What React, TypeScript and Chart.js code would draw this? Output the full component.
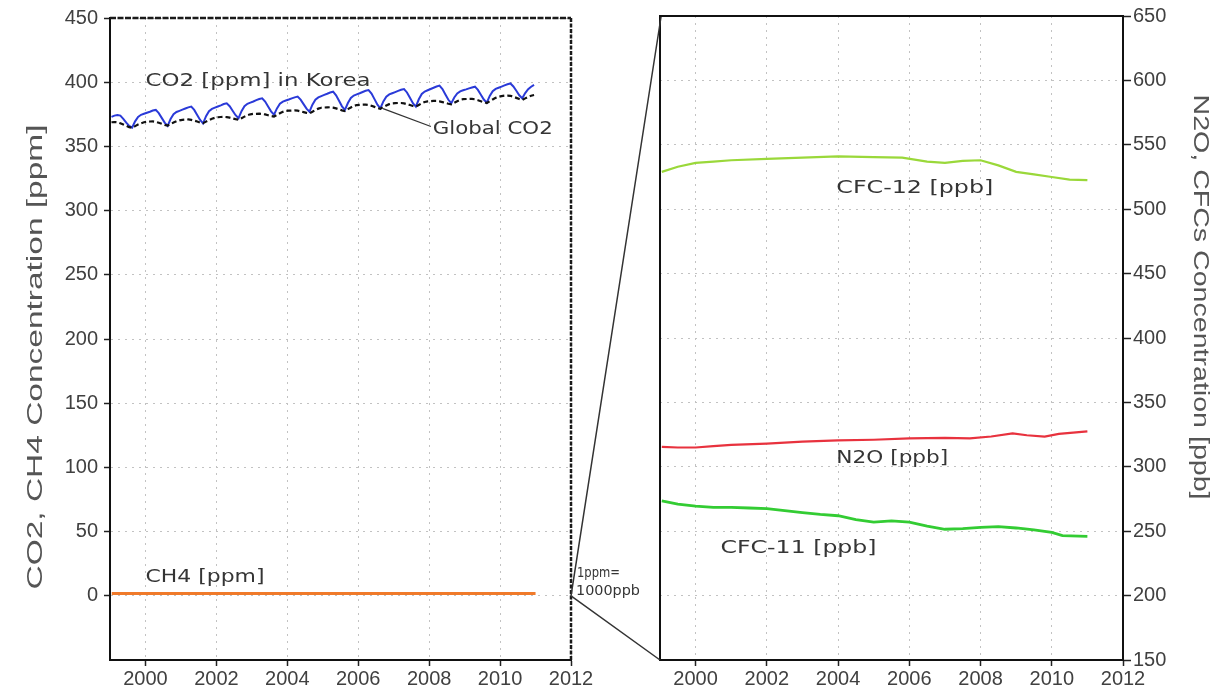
import React, { useEffect, useRef } from "react";
import { Chart, registerables } from "chart.js";

Chart.register(...registerables);

// ---------- DATA ----------
const START_YEAR = 1999; // first month of the monthly CO2 records (Jan 1999)
const X_MIN = 1999;
const X_MAX = 2012;
const yearTicks = [2000, 2002, 2004, 2006, 2008, 2010, 2012];
const leftTicks = [0, 50, 100, 150, 200, 250, 300, 350, 400, 450];
const rightTicks = [150, 200, 250, 300, 350, 400, 450, 500, 550, 600, 650];

// CO2 in Korea [ppm], monthly Jan 1999 .. Dec 2010
const koreaCO2 = [
  373.0, 374.0, 374.5, 374.0, 371.5, 368.5, 366.0, 364.7, 369.5, 372.9, 374.6, 375.4,
  376.2, 377.0, 377.9, 378.4, 375.9, 372.2, 368.5, 366.0, 371.3, 375.0, 376.8, 377.7,
  378.6, 379.5, 380.4, 381.0, 378.4, 374.5, 370.6, 368.0, 373.5, 377.4, 379.2, 380.2,
  381.1, 382.0, 383.0, 383.6, 381.3, 377.8, 374.3, 372.0, 377.4, 381.3, 383.2, 384.1,
  385.0, 386.0, 386.9, 387.5, 384.9, 381.1, 377.3, 374.7, 379.6, 383.2, 384.9, 385.7,
  386.5, 387.4, 388.2, 388.8, 386.4, 382.9, 379.4, 377.0, 382.5, 386.4, 388.2, 389.2,
  390.1, 391.0, 392.0, 392.6, 389.8, 385.5, 381.2, 378.4, 383.8, 387.7, 389.6, 390.5,
  391.4, 392.4, 393.3, 393.9, 391.1, 386.8, 382.5, 379.7, 385.0, 388.7, 390.5, 391.4,
  392.3, 393.2, 394.1, 394.7, 392.0, 387.9, 383.7, 381.0, 386.7, 390.8, 392.7, 393.7,
  394.7, 395.7, 396.6, 397.3, 394.6, 390.5, 386.3, 383.6, 388.1, 391.3, 392.9, 393.7,
  394.4, 395.2, 395.9, 396.5, 394.0, 390.3, 386.5, 384.0, 389.3, 393.0, 394.8, 395.7,
  396.6, 397.5, 398.4, 399.0, 396.7, 393.3, 389.8, 387.5, 391.5, 394.5, 396.5, 397.9,
];

// Global CO2 [ppm], monthly Jan 1999 .. Dec 2010
const globalCO2 = [
  368.8, 369.0, 368.8, 368.0, 367.0, 366.0, 365.0, 364.5, 365.8, 367.0, 368.0, 368.8,
  369.2, 369.4, 369.5, 369.1, 368.4, 367.6, 366.8, 366.2, 367.4, 368.6, 369.6, 370.3,
  370.7, 370.9, 371.0, 370.7, 370.1, 369.4, 368.6, 368.1, 369.3, 370.5, 371.6, 372.3,
  372.7, 372.9, 373.0, 372.8, 372.4, 371.8, 371.2, 370.8, 372.0, 373.2, 374.3, 375.0,
  375.3, 375.4, 375.5, 375.3, 374.9, 374.3, 373.7, 373.3, 374.5, 375.8, 376.9, 377.6,
  377.8, 377.9, 378.0, 377.8, 377.3, 376.7, 376.1, 375.7, 377.0, 378.3, 379.4, 380.1,
  380.3, 380.4, 380.5, 380.2, 379.6, 378.9, 378.1, 377.6, 379.0, 380.3, 381.5, 382.2,
  382.4, 382.5, 382.6, 382.3, 381.6, 380.8, 379.9, 379.3, 380.7, 381.9, 382.9, 383.5,
  383.7, 383.8, 383.8, 383.5, 382.9, 382.2, 381.5, 381.0, 382.3, 383.6, 384.6, 385.1,
  385.3, 385.4, 385.4, 385.1, 384.5, 383.9, 383.2, 382.8, 384.0, 385.2, 386.2, 386.8,
  386.9, 387.0, 387.0, 386.7, 386.0, 385.2, 384.4, 383.8, 385.2, 386.6, 387.8, 388.6,
  389.2, 389.5, 389.6, 389.4, 388.7, 387.8, 386.9, 386.2, 387.4, 388.6, 389.5, 390.0,
];

// CH4 [ppm]
const ch4Years = [1999.05, 2003.0, 2007.0, 2011.0];
const ch4Values = [1.80, 1.82, 1.83, 1.85];

// CFC-12 [ppb]
const cfc12Years = [1999.05, 1999.5, 2000.0, 2000.5, 2001.0, 2002.0, 2003.0, 2004.0, 2005.0, 2005.8, 2006.5, 2007.0, 2007.5, 2008.0, 2008.5, 2009.0, 2009.5, 2010.0, 2010.5, 2011.0];
const cfc12Values = [529.0, 533.0, 536.0, 537.0, 538.0, 539.0, 540.0, 541.0, 540.5, 540.0, 537.0, 536.0, 537.5, 538.0, 534.0, 529.0, 527.0, 525.0, 523.0, 522.5];

// N2O [ppb]
const n2oYears = [1999.05, 1999.5, 2000.0, 2000.5, 2001.0, 2002.0, 2003.0, 2004.0, 2005.0, 2006.0, 2007.0, 2007.7, 2008.3, 2008.9, 2009.3, 2009.8, 2010.2, 2010.6, 2011.0];
const n2oValues = [315.5, 315.0, 315.0, 316.0, 317.0, 318.0, 319.5, 320.5, 321.0, 322.0, 322.5, 322.0, 323.5, 326.0, 324.5, 323.5, 325.5, 326.5, 327.5];

// CFC-11 [ppb]
const cfc11Years = [1999.05, 1999.5, 2000.0, 2000.5, 2001.0, 2001.5, 2002.0, 2002.5, 2003.0, 2003.5, 2004.0, 2004.5, 2005.0, 2005.5, 2006.0, 2006.5, 2007.0, 2007.5, 2008.0, 2008.5, 2009.0, 2009.5, 2010.0, 2010.3, 2011.0];
const cfc11Values = [273.5, 271.0, 269.5, 268.5, 268.5, 268.0, 267.5, 266.0, 264.5, 263.0, 262.0, 259.0, 257.0, 258.0, 257.0, 254.0, 251.5, 252.0, 253.0, 253.5, 252.5, 251.0, 249.0, 246.5, 246.0];

// ---------- STYLE ----------
const TICK_FONT = { family: "'Liberation Sans', Arial, sans-serif", size: 20 };
const TICK_COLOR = "#404040";
const GRID_COLOR = "#c2c2c2";
const LABEL_FONT = "18px 'DejaVu Sans', sans-serif";
const LABEL_COLOR = "#353535";
const TITLE_FONT = "22px 'Liberation Sans', Arial, sans-serif";
const TITLE_COLOR = "#555555";

const monthly = (values: number[]) =>
  values.map((v, i) => ({ x: START_YEAR + (i + 0.5) / 12, y: v }));
const paired = (xs: number[], ys: number[]) => xs.map((x, i) => ({ x, y: ys[i] }));

function fitText(ctx: any, text: string, x: number, y: number, width: number, font: string, color: string) {
  ctx.save();
  ctx.font = font;
  ctx.fillStyle = color;
  ctx.textAlign = "left";
  ctx.textBaseline = "middle";
  const w = ctx.measureText(text).width;
  ctx.translate(x, y);
  ctx.scale(width / w, 1);
  ctx.fillText(text, 0, 0);
  ctx.restore();
}

function fitRotated(ctx: any, text: string, cx: number, cy: number, length: number, angle: number, font: string, color: string) {
  ctx.save();
  ctx.font = font;
  ctx.fillStyle = color;
  ctx.textAlign = "center";
  ctx.textBaseline = "middle";
  const w = ctx.measureText(text).width;
  ctx.translate(cx, cy);
  ctx.rotate(angle);
  ctx.scale(length / w, 1);
  ctx.fillText(text, 0, 0);
  ctx.restore();
}

function xAxis() {
  return {
    type: "linear",
    min: X_MIN,
    max: X_MAX,
    afterBuildTicks: (s: any) => {
      s.ticks = yearTicks.map((v) => ({ value: v }));
    },
    afterFit: (s: any) => {
      s.height = 28;
    },
    ticks: {
      font: TICK_FONT,
      color: TICK_COLOR,
      padding: 1,
      maxRotation: 0,
      minRotation: 0,
      autoSkip: false,
      callback: (v: any) => String(v),
    },
    grid: { color: GRID_COLOR, lineWidth: 1, drawTicks: true, tickLength: 6, tickColor: "#222", tickWidth: 1.5 },
    border: { display: true, color: "#111", width: 2, dash: [2, 5] },
  };
}

function yAxis(position: string, min: number, max: number, ticksArr: number[], width: number, tickLength: number, padding: number) {
  return {
    type: "linear",
    position,
    min,
    max,
    afterBuildTicks: (s: any) => {
      s.ticks = ticksArr.map((v) => ({ value: v }));
    },
    afterFit: (s: any) => {
      s.width = width;
    },
    ticks: { font: TICK_FONT, color: TICK_COLOR, padding, autoSkip: false, callback: (v: any) => String(v) },
    grid: { color: GRID_COLOR, lineWidth: 1, drawTicks: true, tickLength, tickColor: "#222", tickWidth: 1.5 },
    border: { display: true, color: "#111", width: 2, dash: [2, 5] },
  };
}

const line = (data: any[], color: string, width: number, dash: number[] = []) => ({
  data,
  borderColor: color,
  borderWidth: width,
  borderDash: dash,
  pointRadius: 0,
  fill: false,
  tension: 0,
});

export default function App() {
  const leftRef = useRef<HTMLCanvasElement>(null);
  const rightRef = useRef<HTMLCanvasElement>(null);

  useEffect(() => {
    const leftDecor = {
      id: "leftDecor",
      afterDraw(chart: any) {
        const { ctx, chartArea: a, scales } = chart;
        const x = scales.x;
        const y = scales.y;
        ctx.save();
        // top & right frame
        ctx.strokeStyle = "#1a1a1a";
        ctx.lineWidth = 2.5;
        ctx.setLineDash([6, 1.5]);
        ctx.beginPath();
        ctx.moveTo(a.left, a.top);
        ctx.lineTo(a.right, a.top);
        ctx.stroke();
        ctx.setLineDash([4, 1.5]);
        ctx.beginPath();
        ctx.moveTo(a.right, a.top);
        ctx.lineTo(a.right, a.bottom);
        ctx.stroke();
        ctx.setLineDash([]);
        // leader line to "Global CO2"
        ctx.strokeStyle = "#333";
        ctx.lineWidth = 1.3;
        ctx.beginPath();
        ctx.moveTo(x.getPixelForValue(2006.7), y.getPixelForValue(379.4));
        ctx.lineTo(x.getPixelForValue(2008.05), y.getPixelForValue(365.5));
        ctx.stroke();
        ctx.restore();

        fitText(ctx, "CO2 [ppm] in Korea", x.getPixelForValue(2000), y.getPixelForValue(401), 225, LABEL_FONT, LABEL_COLOR);
        fitText(ctx, "Global CO2", x.getPixelForValue(2008.1), y.getPixelForValue(363.5), 120, LABEL_FONT, LABEL_COLOR);
        fitText(ctx, "CH4 [ppm]", x.getPixelForValue(2000), y.getPixelForValue(14.5), 119, LABEL_FONT, LABEL_COLOR);
        fitRotated(ctx, "CO2, CH4 Concentration [ppm]", a.left - 74, 357, 465, -Math.PI / 2, TITLE_FONT, TITLE_COLOR);
      },
    };

    const left = new Chart(leftRef.current as any, {
      type: "line",
      data: {
        datasets: [
          line(monthly(globalCO2), "#111111", 2.2, [5, 3]),
          line(monthly(koreaCO2), "#2a3ad8", 2),
          line(paired(ch4Years, ch4Values), "#f07a2a", 3),
        ],
      },
      options: {
        responsive: false,
        devicePixelRatio: 1,
        animation: false,
        layout: { padding: { left: 0, top: 16, right: 639, bottom: 0 } },
        plugins: { legend: { display: false }, tooltip: { enabled: false } },
        scales: {
          x: xAxis(),
          y: yAxis("left", -50, 450, leftTicks, 110, 6, 6),
        },
      } as any,
      plugins: [leftDecor],
    });

    const rightDecor = {
      id: "rightDecor",
      afterDraw(chart: any) {
        const { ctx, chartArea: a, scales } = chart;
        const x = scales.x;
        const y = scales.y;
        const L = left.chartArea;
        const y0 = left.scales.y.getPixelForValue(0);
        ctx.save();
        ctx.strokeStyle = "#111";
        ctx.lineWidth = 2;
        ctx.beginPath();
        ctx.moveTo(a.left, a.bottom);
        ctx.lineTo(a.left, a.top);
        ctx.lineTo(a.right, a.top);
        ctx.stroke();
        // zoom connector
        ctx.strokeStyle = "#333";
        ctx.lineWidth = 1.5;
        ctx.beginPath();
        ctx.moveTo(L.right, y0);
        ctx.lineTo(a.left + 1, a.top + 1);
        ctx.moveTo(L.right, y0);
        ctx.lineTo(a.left, a.bottom);
        ctx.stroke();
        ctx.restore();

        fitText(ctx, "1ppm=", L.right + 6, y0 - 22, 43, "14px 'DejaVu Sans', sans-serif", LABEL_COLOR);
        fitText(ctx, "1000ppb", L.right + 5, y0 - 4, 64, "14px 'DejaVu Sans', sans-serif", LABEL_COLOR);

        fitText(ctx, "CFC-12 [ppb]", x.getPixelForValue(2003.95), y.getPixelForValue(516.5), 157, LABEL_FONT, LABEL_COLOR);
        fitText(ctx, "N2O [ppb]", x.getPixelForValue(2003.95), y.getPixelForValue(306.8), 112, LABEL_FONT, LABEL_COLOR);
        fitText(ctx, "CFC-11 [ppb]", x.getPixelForValue(2000.7), y.getPixelForValue(237), 156, LABEL_FONT, LABEL_COLOR);
        fitRotated(ctx, "N2O, CFCs Concentration [ppb]", a.right + 77, 297, 405, Math.PI / 2, TITLE_FONT, TITLE_COLOR);
      },
    };

    const right = new Chart(rightRef.current as any, {
      type: "line",
      data: {
        datasets: [
          line(paired(cfc12Years, cfc12Values), "#9ad83a", 2.2),
          line(paired(n2oYears, n2oValues), "#e8323e", 2.2),
          line(paired(cfc11Years, cfc11Values), "#33cc33", 2.8),
        ],
      },
      options: {
        responsive: false,
        devicePixelRatio: 1,
        animation: false,
        layout: { padding: { left: 660, top: 16, right: 0, bottom: 0 } },
        plugins: { legend: { display: false }, tooltip: { enabled: false } },
        scales: {
          x: xAxis(),
          y: yAxis("right", 150, 650, rightTicks, 87, 8, 2),
        },
      } as any,
      plugins: [rightDecor],
    });

    return () => {
      right.destroy();
      left.destroy();
    };
  }, []);

  return (
    <div style={{ position: "fixed", left: 0, top: 0, width: 1210, height: 688, background: "#ffffff" }}>
      <canvas ref={leftRef} width={1210} height={688} style={{ position: "absolute", left: 0, top: 0 }} />
      <canvas ref={rightRef} width={1210} height={688} style={{ position: "absolute", left: 0, top: 0 }} />
    </div>
  );
}
